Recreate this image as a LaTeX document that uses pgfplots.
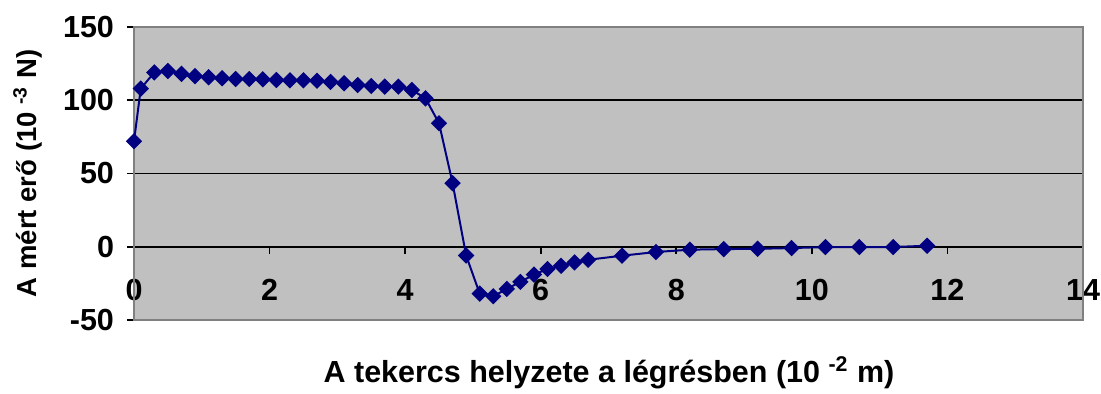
\documentclass[border=0pt]{standalone}
\usepackage{fontspec}
\setmainfont{Liberation Sans}
\usepackage{pgfplots}
\pgfplotsset{compat=1.18}
\definecolor{bggray}{HTML}{C0C0C0}
\definecolor{navyc}{HTML}{000080}
\definecolor{framegray}{HTML}{808080}
\begin{document}
\begin{tikzpicture}
\begin{axis}[
  at={(0,0)}, anchor=south west,
  scale only axis, width=474.5bp, height=146.5bp,
  xmin=0, xmax=14, ymin=-50, ymax=150,
  axis x line*=middle, axis y line*=left,
  hide obscured x ticks=false, hide obscured y ticks=false,
  axis background/.style={fill=bggray},
  xtick={0,2,4,6,8,10,12,14},
  xticklabels={0,2,4,6,8,10,12,14},
  ytick={-50,0,50,100,150},
  yticklabels={-50,0,50,100,150},
  ymajorgrids, grid style={black, line width=0.8bp},
  tick align=outside, major tick length=3.5bp,
  tick style={black, line width=0.8bp},
  axis line style={black, line width=0.8bp},
  tick label style={font=\fontsize{15.3}{17}\selectfont\bfseries},
  xticklabel style={anchor=center, yshift=-18bp},
  yticklabel style={anchor=east, xshift=-3bp},
  clip=false,
]
\draw[framegray, line width=0.9bp] (rel axis cs:0,0) rectangle (rel axis cs:1,1);
\addplot[navyc, line width=1bp, mark=square*, mark size=2.4bp,
  mark options={rotate=45, solid, fill=navyc, draw=navyc}] table {
x y
0 72
0.1 108
0.3 119
0.5 120
0.7 118
0.9 116.5
1.1 115.7
1.3 115
1.5 114.5
1.7 114.5
1.9 114.3
2.1 113.8
2.3 113.6
2.5 113.6
2.7 113.3
2.9 112.5
3.1 111.6
3.3 110.4
3.5 109.7
3.7 109.3
3.9 109.3
4.1 107
4.3 101.3
4.5 84.3
4.7 43.4
4.9 -6
5.1 -32
5.3 -33.8
5.5 -28.8
5.7 -24
5.9 -19
6.1 -15.2
6.3 -13
6.5 -10.7
6.7 -8.9
7.2 -6.1
7.7 -3.6
8.2 -2
8.7 -1.6
9.2 -1.4
9.7 -0.9
10.2 -0.2
10.7 -0.2
11.2 -0.2
11.7 0.7
};
\end{axis}
\node[font=\fontsize{15.3}{17}\selectfont\bfseries, anchor=base] at (237.5bp,-31bp)
  {A tekercs helyzete a légrésben (10 \textsuperscript{-2} m)};
\node[font=\fontsize{13.8}{16}\selectfont\bfseries, rotate=90, anchor=base] at (-48.5bp,73.3bp)
  {A mért erő (10 \textsuperscript{-3} N)};
\pgfresetboundingbox
\path[use as bounding box] (-67bp,-37bp) rectangle (483.5bp,160bp);
\end{tikzpicture}
\end{document}
